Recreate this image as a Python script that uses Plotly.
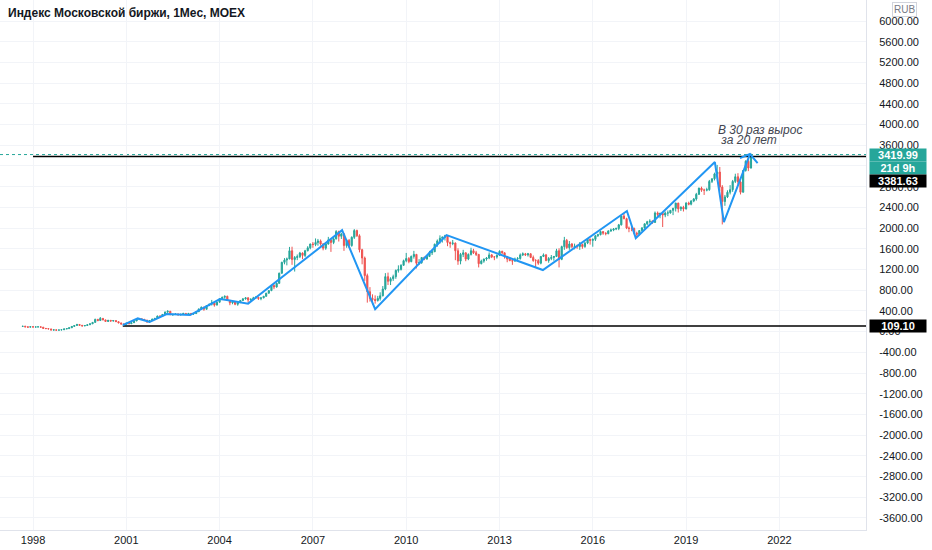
import pandas as pd
import plotly.graph_objects as go

# monthly candles, Sep 1997 .. Feb 2021
first_month = "1997-09-01"
first_open = 100

closes = [
    104, 92, 86, 96,  # 1997
    88, 90, 92, 86, 62, 58, 52, 30, 34, 28, 32, 36,  # 1998
    52, 58, 74, 100, 118, 138, 122, 110, 118, 132, 150, 178,  # 1999
    236, 214, 256, 226, 196, 218, 204, 214, 192, 168, 146, 142,  # 2000
    164, 152, 172, 206, 244, 246, 238, 222, 188, 214, 244, 256,  # 2001
    302, 296, 332, 378, 394, 328, 332, 342, 322, 336, 352, 330,  # 2002
    352, 342, 348, 384, 438, 472, 432, 502, 530, 556, 512, 568,  # 2003
    636, 664, 682, 602, 556, 572, 528, 562, 602, 632, 652, 612,  # 2004
    622, 652, 662, 638, 652, 682, 742, 792, 892, 862, 932, 1128,  # 2005
    1338, 1382, 1404, 1562, 1392, 1432, 1448, 1518, 1472, 1562, 1618, 1692,  # 2006
    1682, 1722, 1752, 1692, 1612, 1692, 1772, 1722, 1792, 1932, 1842, 1888,  # 2007
    1662, 1762, 1662, 1822, 1952, 1852, 1582, 1422, 1082, 772, 642, 620,  # 2008
    602, 642, 692, 822, 1062, 972, 1022, 1062, 1182, 1202, 1282, 1370,  # 2009
    1412, 1352, 1452, 1492, 1322, 1332, 1432, 1402, 1452, 1522, 1542, 1688,  # 2010
    1752, 1802, 1822, 1852, 1722, 1702, 1712, 1562, 1362, 1492, 1522, 1402,  # 2011
    1492, 1562, 1522, 1492, 1312, 1362, 1402, 1422, 1482, 1442, 1442, 1474,  # 2012
    1552, 1522, 1452, 1402, 1372, 1362, 1402, 1412, 1482, 1502, 1482, 1504,  # 2013
    1432, 1372, 1372, 1322, 1452, 1482, 1372, 1412, 1432, 1452, 1562, 1396,  # 2014
    1642, 1762, 1622, 1692, 1642, 1652, 1642, 1682, 1642, 1712, 1782, 1762,  # 2015
    1782, 1852, 1872, 1932, 1902, 1892, 1942, 1962, 1982, 1992, 2062, 2232,  # 2016
    2182, 2002, 1992, 1992, 1902, 1882, 1952, 2002, 2082, 2122, 2132, 2110,  # 2017
    2292, 2262, 2282, 2252, 2292, 2292, 2342, 2382, 2482, 2372, 2402, 2370,  # 2018
    2482, 2462, 2522, 2562, 2652, 2772, 2732, 2732, 2742, 2902, 2952, 3046,  # 2019
    3082, 2792, 2512, 2602, 2692, 2742, 2902, 2992, 2892, 2692, 3112, 3290,  # 2020
    3160, 3420,  # 2021
]

highs = [
    108, 112, 95, 99,
    100, 96, 98, 95, 88, 66, 64, 54, 40, 38, 36, 40,
    56, 62, 80, 108, 128, 150, 142, 126, 124, 138, 156, 182,
    250, 246, 282, 262, 230, 226, 224, 222, 218, 196, 172, 154,
    170, 168, 176, 210, 252, 258, 252, 240, 226, 218, 248, 262,
    306, 310, 336, 388, 410, 398, 346, 352, 346, 340, 360, 358,
    360, 356, 352, 390, 444, 484, 480, 506, 540, 612, 560, 572,
    646, 676, 698, 694, 612, 600, 578, 570, 608, 650, 666, 664,
    646, 672, 684, 672, 660, 690, 748, 800, 906, 912, 950, 1140,
    1350, 1420, 1430, 1636, 1640, 1460, 1490, 1540, 1530, 1580, 1650, 1700,
    1730, 1800, 1790, 1780, 1710, 1720, 1830, 1780, 1820, 1960, 1950, 1910,
    1900, 1790, 1790, 1840, 1980, 1970, 1880, 1600, 1450, 1120, 860, 720,
    700, 690, 760, 880, 1130, 1140, 1050, 1100, 1200, 1280, 1300, 1390,
    1520, 1440, 1470, 1560, 1500, 1400, 1440, 1450, 1470, 1560, 1580, 1700,
    1780, 1860, 1840, 1870, 1860, 1740, 1770, 1720, 1610, 1520, 1580, 1530,
    1510, 1620, 1600, 1560, 1500, 1390, 1410, 1440, 1530, 1500, 1460, 1490,
    1570, 1560, 1530, 1460, 1440, 1390, 1430, 1440, 1510, 1530, 1520, 1520,
    1510, 1470, 1400, 1400, 1460, 1510, 1500, 1440, 1480, 1460, 1600, 1610,
    1660, 1830, 1790, 1750, 1710, 1700, 1680, 1730, 1700, 1730, 1800, 1800,
    1800, 1860, 1890, 1950, 1940, 1920, 1960, 1990, 2000, 2010, 2080, 2240,
    2290, 2200, 2030, 2030, 2010, 1930, 1960, 2020, 2090, 2140, 2170, 2150,
    2320, 2320, 2300, 2310, 2320, 2340, 2350, 2390, 2490, 2490, 2420, 2430,
    2500, 2510, 2540, 2580, 2680, 2780, 2800, 2760, 2780, 2930, 2960, 3070,
    3220, 3180, 2830, 2640, 2730, 2830, 2930, 3050, 3060, 2910, 3120, 3310,
    3340, 3440,
]

lows = [
    98, 84, 78, 84,
    82, 84, 86, 80, 58, 50, 46, 26, 24, 20, 26, 28,
    34, 48, 54, 70, 96, 110, 118, 100, 104, 114, 128, 148,
    176, 200, 208, 218, 186, 188, 196, 196, 186, 162, 136, 130,
    136, 146, 148, 168, 202, 232, 224, 216, 170, 184, 210, 238,
    252, 282, 292, 326, 362, 318, 302, 326, 316, 312, 330, 322,
    326, 336, 322, 344, 382, 430, 402, 430, 494, 504, 482, 508,
    562, 626, 636, 592, 510, 528, 510, 500, 550, 590, 618, 560,
    596, 610, 630, 612, 606, 644, 676, 734, 782, 820, 850, 928,
    1120, 1300, 1280, 1398, 1290, 1160, 1380, 1420, 1400, 1440, 1550, 1590,
    1620, 1650, 1660, 1660, 1570, 1580, 1680, 1540, 1690, 1780, 1740, 1790,
    1560, 1620, 1620, 1640, 1790, 1830, 1530, 1300, 980, 560, 580, 520,
    540, 580, 600, 680, 800, 900, 900, 980, 1020, 1140, 1180, 1270,
    1340, 1320, 1340, 1410, 1220, 1290, 1310, 1380, 1390, 1440, 1480, 1540,
    1640, 1700, 1720, 1760, 1650, 1620, 1670, 1380, 1290, 1300, 1440, 1360,
    1380, 1470, 1500, 1460, 1240, 1300, 1330, 1370, 1400, 1420, 1380, 1410,
    1460, 1500, 1410, 1340, 1360, 1290, 1350, 1370, 1390, 1460, 1460, 1450,
    1420, 1350, 1230, 1290, 1300, 1440, 1360, 1330, 1380, 1370, 1440, 1240,
    1380, 1580, 1600, 1580, 1610, 1590, 1600, 1580, 1600, 1620, 1690, 1680,
    1640, 1750, 1830, 1860, 1870, 1860, 1880, 1930, 1940, 1960, 1960, 2050,
    2170, 1980, 1920, 1940, 1880, 1820, 1860, 1940, 1990, 2060, 2090, 2080,
    2100, 2200, 2190, 2020, 2210, 2230, 2280, 2250, 2320, 2300, 2330, 2320,
    2360, 2440, 2440, 2500, 2530, 2640, 2700, 2640, 2710, 2720, 2870, 2920,
    3000, 2720, 2070, 2430, 2580, 2650, 2700, 2870, 2840, 2650, 2690, 3090,
    3100, 3150,
]

# hand-drawn zigzag
zig_dates = ["2000-11-20", "2001-05-15", "2001-10-01", "2002-04-20", "2003-01-20",
             "2004-01-05", "2004-03-25", "2004-12-01", "2007-12-10", "2009-01-01",
             "2011-04-20", "2014-05-25", "2017-02-05", "2017-05-20", "2019-12-05",
             "2020-03-20", "2021-01-20"]
zig_values = [125, 255, 185, 340, 320, 630, 610, 540, 1960, 435,
              1865, 1190, 2330, 1805, 3275, 2115, 3430]
arrow_dates = ["2020-09-25", "2021-01-20", "2021-04-20"]
arrow_values = [3350, 3430, 3255]

# horizontal rays
top_level = 3381.63
top_start = "1998-01-01"
low_level = 109.10
low_start = "2000-11-20"
last_price = 3419.99
countdown = "21d 9h"

note_lines = ["В 30 раз вырос", " за 20 лет"]

y_ticks = list(range(-3600, 6001, 400))

dates = pd.date_range(first_month, periods=len(closes), freq="MS")
opens = [first_open] + closes[:-1]

GREEN = "#26a69a"
RED = "#ef5350"
BLUE = "#2196f3"
TXT = "#131722"
FONT = "Liberation Sans"

fig = go.Figure()

fig.add_trace(go.Candlestick(
    x=dates, open=opens, high=highs, low=lows, close=closes,
    increasing=dict(line=dict(color=GREEN, width=1), fillcolor=GREEN),
    decreasing=dict(line=dict(color=RED, width=1), fillcolor=RED),
    whiskerwidth=0, showlegend=False, hoverinfo="skip",
))

far_right = "2030-01-01"
fig.add_trace(go.Scatter(x=[top_start, far_right], y=[top_level, top_level], mode="lines",
                         line=dict(color="#000000", width=1.6), showlegend=False, hoverinfo="skip"))
fig.add_trace(go.Scatter(x=[low_start, far_right], y=[low_level, low_level], mode="lines",
                         line=dict(color="#000000", width=1.6), showlegend=False, hoverinfo="skip"))
fig.add_trace(go.Scatter(x=pd.to_datetime(zig_dates), y=zig_values, mode="lines",
                         line=dict(color=BLUE, width=2), showlegend=False, hoverinfo="skip"))
fig.add_trace(go.Scatter(x=pd.to_datetime(arrow_dates), y=arrow_values, mode="lines",
                         line=dict(color=BLUE, width=2), showlegend=False, hoverinfo="skip"))

# last price dotted line
fig.add_shape(type="line", xref="paper", x0=0, x1=1, yref="y", y0=last_price, y1=last_price,
              line=dict(color=GREEN, width=1, dash="dot"), layer="below")

fig.update_layout(
    width=932, height=550,
    margin=dict(l=0, r=66, t=0, b=20),
    paper_bgcolor="white", plot_bgcolor="white",
    font=dict(family=FONT, size=11, color=TXT),
    xaxis=dict(
        type="date", range=["1996-12-09", "2024-10-14"],
        tick0="1998-01-01", dtick="M36", tickformat="%Y",
        showgrid=True, gridcolor="#f2f4f8", gridwidth=1,
        rangeslider=dict(visible=False), zeroline=False,
        showline=True, linecolor="#e0e3eb", ticks="", fixedrange=True,
    ),
    yaxis=dict(
        side="right", range=[-3832, 6405.6],
        tickvals=y_ticks, ticktext=[f"{v:.2f}" for v in y_ticks],
        showgrid=True, gridcolor="#f2f4f8", gridwidth=1, zeroline=False,
        showline=True, linecolor="#e0e3eb",
        ticks="outside", ticklen=10, tickcolor="rgba(0,0,0,0)",
    ),
)

fig.add_annotation(xref="paper", yref="paper", x=0, y=1, xanchor="left", yanchor="top",
                   xshift=6, yshift=-4, showarrow=False,
                   text="<b>Индекс Московской биржи, 1Мес, MOEX</b>",
                   font=dict(family=FONT, size=12, color=TXT))

fig.add_annotation(xref="paper", yref="paper", x=1, y=1, xanchor="left", yanchor="top",
                   xshift=26, yshift=-2, showarrow=False, text="RUB",
                   font=dict(family=FONT, size=10, color="#787b86"),
                   bordercolor="#d1d4dc", borderwidth=1, borderpad=1)

# two-line note, one annotation per line for tight spacing
for i, line in enumerate(note_lines):
    fig.add_annotation(x=pd.Timestamp("2019-12-20"), y=4060, xanchor="left", yanchor="top",
                       yshift=-10 * i, showarrow=False, text=f"<i>{line}</i>",
                       font=dict(family=FONT, size=12, color="#434651"))

labels = [
    (last_price, f"{last_price:.2f}", GREEN, 0),
    (last_price, countdown, GREEN, -13),
    (last_price, f"{top_level:.2f}", "#000000", -26),
    (low_level, f"{low_level:.2f}", "#000000", 0),
]
for yv, txt, bg, ys in labels:
    fig.add_annotation(xref="paper", yref="y", x=1, y=yv, xanchor="left", yanchor="middle",
                       xshift=3, yshift=ys, showarrow=False, text=f"<b>{txt}</b>",
                       font=dict(family=FONT, size=11, color="white"),
                       bgcolor=bg, width=56, height=12, borderpad=0, align="center")

# page body has an 8px default margin; drop it so the chart fills the window
fig.write_html("out.html", config={"displayModeBar": False},
               post_script="document.body.style.margin='0';")
